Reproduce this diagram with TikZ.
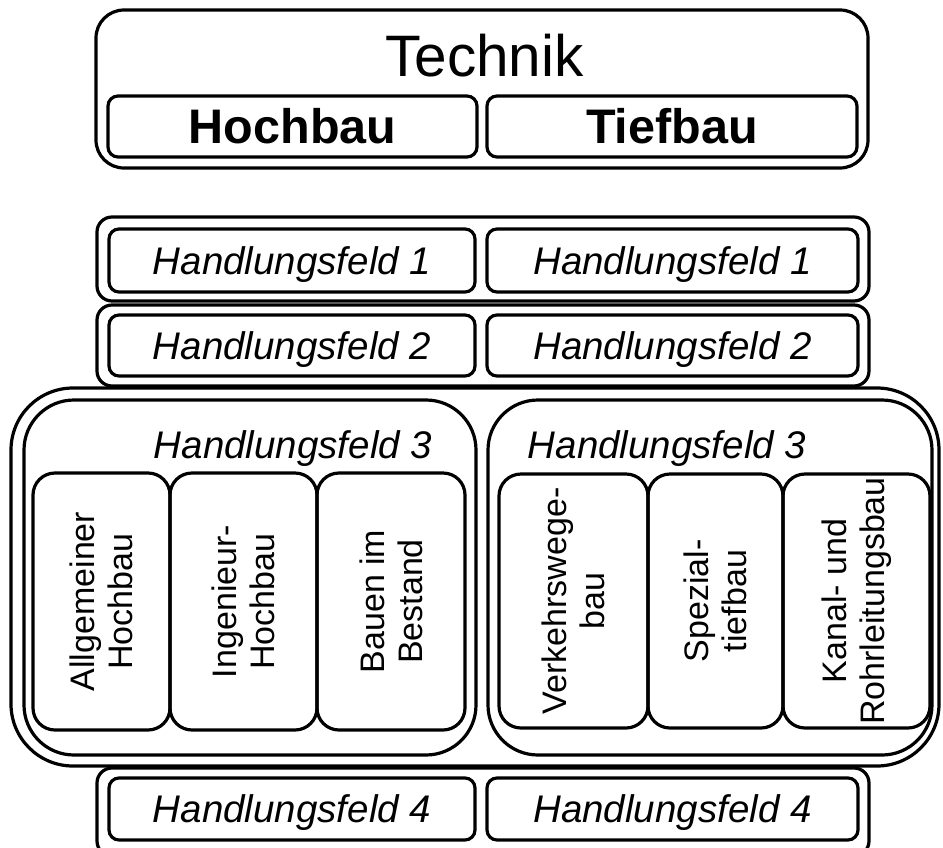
\documentclass[tikz,border=0pt]{standalone}
\usepackage{fontspec}
\setmainfont{Liberation Sans}
\newcommand\rbox[7]{\node[#1, minimum width={(#5)-(#3)}, minimum height={(#6)-(#4)}] (#2) at ({((#3)+(#5))/2},{((#4)+(#6))/2}) {#7};}
\tikzset{
  lw/.style={draw, line width=3.2pt, inner sep=0pt, outer sep=0pt},
  techframe/.style={lw, rounded corners=28pt},
  rowframe/.style={lw, rounded corners=15pt},
  bigframe/.style={lw, rounded corners=62pt},
  midframe/.style={lw, rounded corners=50pt},
  hbox/.style={lw, rounded corners=10pt, font=\fontsize{48.5}{56}\selectfont\bfseries, text height=34.7pt, text depth=0pt},
  fbox/.style={lw, rounded corners=10pt, font=\fontsize{38.5}{44}\selectfont\itshape, text height=27.6pt, text depth=0pt},
  col/.style={lw, rounded corners=22pt},
  coltext/.style={rotate=90, align=center, font=\fontsize{34}{38}\selectfont, inner sep=0pt},
  hf3/.style={anchor=base, inner sep=0pt, font=\fontsize{38.5}{44}\selectfont\itshape},
}
\begin{document}
\begin{tikzpicture}[x=1pt,y=-1pt]
\useasboundingbox (0,0) rectangle (943,847);
\clip (0,0) rectangle (943,847);
% Technik
\rbox{techframe}{tech}{96}{10}{868}{168}{}
\node[anchor=base, inner sep=0pt, font=\fontsize{58.5}{66}\selectfont] (techtxt) at (484.5,76) {Technik};
\rbox{hbox}{hoch}{108}{96}{477}{157}{Hochbau}
\rbox{hbox}{tief}{487}{96}{857}{157}{Tiefbau}
% Handlungsfeld 1
\rbox{rowframe}{r1}{97}{217}{869}{301}{}
\rbox{fbox}{hfa1}{109}{229}{475}{292}{Handlungsfeld 1}
\rbox{fbox}{hfb1}{487}{229}{858}{292}{Handlungsfeld 1}
% Handlungsfeld 2
\rbox{rowframe}{r2}{97}{305}{869}{386}{}
\rbox{fbox}{hfa2}{109}{315}{475}{376}{Handlungsfeld 2}
\rbox{fbox}{hfb2}{487}{315}{858}{376}{Handlungsfeld 2}
% Handlungsfeld 3
\rbox{bigframe}{r3}{11}{388}{939}{766}{}
\rbox{midframe}{r3a}{24}{400}{476}{755}{}
\rbox{midframe}{r3b}{488}{400}{932}{755}{}
\node[hf3] (hfa3) at (293,458) {Handlungsfeld 3};
\node[hf3] (hfb3) at (667,458) {Handlungsfeld 3};
\rbox{col}{ca1}{33}{473}{170}{730}{}
\rbox{col}{ca2}{170}{473}{317}{730}{}
\rbox{col}{ca3}{317}{473}{465}{730}{}
\rbox{col}{cb1}{499}{474}{648}{728}{}
\rbox{col}{cb2}{648}{474}{783}{728}{}
\rbox{col}{cb3}{783}{474}{930}{728}{}
\node[coltext] (ta1) at (ca1) {Allgemeiner\\Hochbau};
\node[coltext] (ta2) at (ca2) {Ingenieur-\\Hochbau};
\node[coltext] (ta3) at (ca3) {Bauen im\\Bestand};
\node[coltext] (tb1) at (cb1) {Verkehrswege-\\bau};
\node[coltext] (tb2) at (cb2) {Spezial-\\tiefbau};
\node[coltext] (tb3) at (cb3) {Kanal- und\\Rohrleitungsbau};
% Handlungsfeld 4
\rbox{rowframe}{r4}{97}{768}{869}{856}{}
\rbox{fbox}{hfa4}{109}{778}{475}{840}{Handlungsfeld 4}
\rbox{fbox}{hfb4}{487}{778}{858}{840}{Handlungsfeld 4}
\end{tikzpicture}
\end{document}
